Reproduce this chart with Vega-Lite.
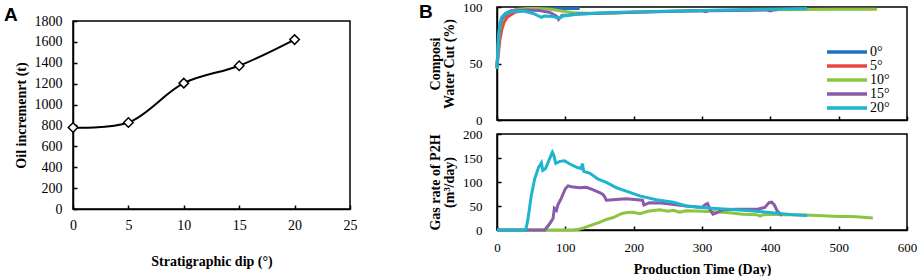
{
  "$schema": "https://vega.github.io/schema/vega-lite/v6.json",
  "background": "white",
  "padding": {"left": 3, "top": 0, "right": 0, "bottom": 0},
  "config": {
    "view": {"stroke": "black", "strokeWidth": 1.5},
    "font": "Liberation Serif, Times New Roman, serif",
    "axis": {
      "domainColor": "black", "domainWidth": 1.5,
      "tickColor": "black", "tickWidth": 1.5, "tickSize": -4,
      "labelColor": "black", "labelFont": "Liberation Serif, Times New Roman, serif", "labelFontSize": 14, "labelFlush": false,
      "titleFont": "Liberation Serif, Times New Roman, serif", "titleFontWeight": "bold", "titleFontSize": 14, "titleColor": "black",
      "grid": false
    },
    "legend": {"labelFont": "Liberation Serif, Times New Roman, serif"}
  },
  "datasets": {
    "oil": [
      {"dip": 0, "oil": 780}, {"dip": 5, "oil": 828}, {"dip": 10, "oil": 1205}, {"dip": 15, "oil": 1372}, {"dip": 20, "oil": 1622}
    ],
    "wc": [
      {"s": "0°", "day": 0, "v": 48}, {"s": "0°", "day": 2, "v": 70}, {"s": "0°", "day": 4, "v": 83}, {"s": "0°", "day": 7, "v": 90}, {"s": "0°", "day": 12, "v": 94}, {"s": "0°", "day": 20, "v": 96.5}, {"s": "0°", "day": 30, "v": 97.8}, {"s": "0°", "day": 45, "v": 98.3}, {"s": "0°", "day": 60, "v": 98.5}, {"s": "0°", "day": 80, "v": 98.5}, {"s": "0°", "day": 100, "v": 98.6}, {"s": "0°", "day": 121, "v": 98.6},
      {"s": "5°", "day": 0, "v": 47}, {"s": "5°", "day": 2, "v": 58}, {"s": "5°", "day": 4, "v": 70}, {"s": "5°", "day": 7, "v": 80}, {"s": "5°", "day": 10, "v": 86}, {"s": "5°", "day": 15, "v": 91}, {"s": "5°", "day": 25, "v": 95}, {"s": "5°", "day": 35, "v": 96.5}, {"s": "5°", "day": 50, "v": 97.5}, {"s": "5°", "day": 60, "v": 97.8},
      {"s": "10°", "day": 0, "v": 46}, {"s": "10°", "day": 2, "v": 66}, {"s": "10°", "day": 4, "v": 80}, {"s": "10°", "day": 7, "v": 88}, {"s": "10°", "day": 12, "v": 93}, {"s": "10°", "day": 20, "v": 96}, {"s": "10°", "day": 30, "v": 97.8}, {"s": "10°", "day": 45, "v": 98.6}, {"s": "10°", "day": 60, "v": 98.6}, {"s": "10°", "day": 78, "v": 98}, {"s": "10°", "day": 97, "v": 96.2}, {"s": "10°", "day": 112, "v": 95}, {"s": "10°", "day": 131, "v": 94.4}, {"s": "10°", "day": 161, "v": 94.5}, {"s": "10°", "day": 175, "v": 94.8}, {"s": "10°", "day": 200, "v": 95.4}, {"s": "10°", "day": 250, "v": 96.2}, {"s": "10°", "day": 300, "v": 96.8}, {"s": "10°", "day": 350, "v": 97.2}, {"s": "10°", "day": 400, "v": 97.6}, {"s": "10°", "day": 450, "v": 97.8}, {"s": "10°", "day": 500, "v": 98}, {"s": "10°", "day": 556, "v": 98},
      {"s": "15°", "day": 0, "v": 46}, {"s": "15°", "day": 2, "v": 68}, {"s": "15°", "day": 4, "v": 82}, {"s": "15°", "day": 7, "v": 89}, {"s": "15°", "day": 12, "v": 93}, {"s": "15°", "day": 20, "v": 95.8}, {"s": "15°", "day": 30, "v": 97}, {"s": "15°", "day": 45, "v": 97.3}, {"s": "15°", "day": 62, "v": 96.8}, {"s": "15°", "day": 78, "v": 95}, {"s": "15°", "day": 87, "v": 92}, {"s": "15°", "day": 90, "v": 89}, {"s": "15°", "day": 95, "v": 92.5}, {"s": "15°", "day": 105, "v": 93}, {"s": "15°", "day": 117, "v": 93.8}, {"s": "15°", "day": 150, "v": 94.5}, {"s": "15°", "day": 200, "v": 95.4}, {"s": "15°", "day": 250, "v": 96}, {"s": "15°", "day": 300, "v": 96.6}, {"s": "15°", "day": 305, "v": 95.8}, {"s": "15°", "day": 310, "v": 96.6}, {"s": "15°", "day": 350, "v": 97}, {"s": "15°", "day": 395, "v": 97.4}, {"s": "15°", "day": 400, "v": 96.5}, {"s": "15°", "day": 405, "v": 97.5}, {"s": "15°", "day": 410, "v": 97.6},
      {"s": "20°", "day": 0, "v": 45}, {"s": "20°", "day": 2, "v": 72}, {"s": "20°", "day": 4, "v": 85}, {"s": "20°", "day": 7, "v": 91}, {"s": "20°", "day": 12, "v": 94}, {"s": "20°", "day": 20, "v": 95.8}, {"s": "20°", "day": 30, "v": 96.5}, {"s": "20°", "day": 40, "v": 96.3}, {"s": "20°", "day": 53, "v": 94.3}, {"s": "20°", "day": 65, "v": 90.8}, {"s": "20°", "day": 69, "v": 92}, {"s": "20°", "day": 82, "v": 91.7}, {"s": "20°", "day": 90, "v": 90}, {"s": "20°", "day": 97, "v": 92}, {"s": "20°", "day": 117, "v": 93.5}, {"s": "20°", "day": 150, "v": 94.6}, {"s": "20°", "day": 180, "v": 95.4}, {"s": "20°", "day": 250, "v": 96.3}, {"s": "20°", "day": 300, "v": 97}, {"s": "20°", "day": 350, "v": 97.6}, {"s": "20°", "day": 400, "v": 98.1}, {"s": "20°", "day": 454, "v": 98.7}
    ],
    "gas": [
      {"s": "10°", "day": 0, "v": 0}, {"s": "10°", "day": 111, "v": 0}, {"s": "10°", "day": 120, "v": 1.5}, {"s": "10°", "day": 126, "v": 4}, {"s": "10°", "day": 136, "v": 9}, {"s": "10°", "day": 150, "v": 16}, {"s": "10°", "day": 160, "v": 22}, {"s": "10°", "day": 170, "v": 26}, {"s": "10°", "day": 182, "v": 34}, {"s": "10°", "day": 190, "v": 36.5}, {"s": "10°", "day": 199, "v": 37}, {"s": "10°", "day": 209, "v": 34}, {"s": "10°", "day": 221, "v": 39}, {"s": "10°", "day": 238, "v": 42}, {"s": "10°", "day": 250, "v": 39}, {"s": "10°", "day": 258, "v": 41}, {"s": "10°", "day": 267, "v": 37}, {"s": "10°", "day": 277, "v": 40}, {"s": "10°", "day": 300, "v": 39}, {"s": "10°", "day": 320, "v": 38}, {"s": "10°", "day": 340, "v": 36}, {"s": "10°", "day": 360, "v": 33}, {"s": "10°", "day": 380, "v": 32}, {"s": "10°", "day": 385, "v": 29}, {"s": "10°", "day": 390, "v": 32}, {"s": "10°", "day": 400, "v": 33}, {"s": "10°", "day": 420, "v": 32}, {"s": "10°", "day": 450, "v": 31}, {"s": "10°", "day": 470, "v": 30}, {"s": "10°", "day": 500, "v": 28}, {"s": "10°", "day": 520, "v": 28}, {"s": "10°", "day": 550, "v": 25},
      {"s": "15°", "day": 0, "v": 0}, {"s": "15°", "day": 70, "v": 0}, {"s": "15°", "day": 77, "v": 13}, {"s": "15°", "day": 82, "v": 24}, {"s": "15°", "day": 84, "v": 45}, {"s": "15°", "day": 87, "v": 41}, {"s": "15°", "day": 89, "v": 52}, {"s": "15°", "day": 94, "v": 66}, {"s": "15°", "day": 100, "v": 86}, {"s": "15°", "day": 104, "v": 92}, {"s": "15°", "day": 109, "v": 90}, {"s": "15°", "day": 121, "v": 88}, {"s": "15°", "day": 131, "v": 89}, {"s": "15°", "day": 140, "v": 84}, {"s": "15°", "day": 150, "v": 78}, {"s": "15°", "day": 155, "v": 74}, {"s": "15°", "day": 158, "v": 68}, {"s": "15°", "day": 160, "v": 62}, {"s": "15°", "day": 170, "v": 63}, {"s": "15°", "day": 189, "v": 65}, {"s": "15°", "day": 205, "v": 63}, {"s": "15°", "day": 213, "v": 62}, {"s": "15°", "day": 215, "v": 52}, {"s": "15°", "day": 223, "v": 57}, {"s": "15°", "day": 240, "v": 56}, {"s": "15°", "day": 253, "v": 54}, {"s": "15°", "day": 277, "v": 50}, {"s": "15°", "day": 300, "v": 47}, {"s": "15°", "day": 305, "v": 53}, {"s": "15°", "day": 308, "v": 55}, {"s": "15°", "day": 312, "v": 42}, {"s": "15°", "day": 316, "v": 33}, {"s": "15°", "day": 322, "v": 36}, {"s": "15°", "day": 330, "v": 42}, {"s": "15°", "day": 350, "v": 43}, {"s": "15°", "day": 380, "v": 43}, {"s": "15°", "day": 392, "v": 47}, {"s": "15°", "day": 398, "v": 57}, {"s": "15°", "day": 402, "v": 58}, {"s": "15°", "day": 406, "v": 52}, {"s": "15°", "day": 410, "v": 40}, {"s": "15°", "day": 417, "v": 30},
      {"s": "20°", "day": 0, "v": 0}, {"s": "20°", "day": 42, "v": 0}, {"s": "20°", "day": 45, "v": 20}, {"s": "20°", "day": 50, "v": 70}, {"s": "20°", "day": 55, "v": 106}, {"s": "20°", "day": 61, "v": 131}, {"s": "20°", "day": 65, "v": 140}, {"s": "20°", "day": 67, "v": 124}, {"s": "20°", "day": 71, "v": 128}, {"s": "20°", "day": 76, "v": 145}, {"s": "20°", "day": 81, "v": 162}, {"s": "20°", "day": 83, "v": 156}, {"s": "20°", "day": 86, "v": 139}, {"s": "20°", "day": 92, "v": 143}, {"s": "20°", "day": 99, "v": 144}, {"s": "20°", "day": 106, "v": 138}, {"s": "20°", "day": 116, "v": 131}, {"s": "20°", "day": 123, "v": 128}, {"s": "20°", "day": 125, "v": 138}, {"s": "20°", "day": 127, "v": 122}, {"s": "20°", "day": 136, "v": 118}, {"s": "20°", "day": 148, "v": 106}, {"s": "20°", "day": 160, "v": 99}, {"s": "20°", "day": 175, "v": 88}, {"s": "20°", "day": 189, "v": 81}, {"s": "20°", "day": 209, "v": 71}, {"s": "20°", "day": 233, "v": 63}, {"s": "20°", "day": 258, "v": 58}, {"s": "20°", "day": 277, "v": 50}, {"s": "20°", "day": 300, "v": 47}, {"s": "20°", "day": 320, "v": 45}, {"s": "20°", "day": 350, "v": 42}, {"s": "20°", "day": 380, "v": 39}, {"s": "20°", "day": 410, "v": 35}, {"s": "20°", "day": 440, "v": 31}, {"s": "20°", "day": 454, "v": 30}
    ]
  },
  "spacing": 60,
  "hconcat": [
    {
      "bounds": "flush",
      "spacing": 13,
      "vconcat": [
        {"width": 277, "height": 1, "view": {"stroke": null}, "data": {"values": []}, "mark": "point"},
        {
          "width": 277,
          "height": 188,
          "title": {"text": "A", "anchor": "start", "frame": "group", "dx": -69, "dy": 27, "offset": 1, "baseline": "alphabetic", "font": "Liberation Sans", "fontSize": 19, "fontWeight": "bold", "color": "black"},
          "data": {"name": "oil"},
          "encoding": {
            "x": {"field": "dip", "type": "quantitative", "scale": {"domain": [0, 25]}, "axis": {"values": [0, 5, 10, 15, 20, 25], "title": "Stratigraphic dip (°)", "labelPadding": 13, "titlePadding": 22}},
            "y": {"field": "oil", "type": "quantitative", "scale": {"domain": [0, 1800]}, "axis": {"values": [0, 200, 400, 600, 800, 1000, 1200, 1400, 1600, 1800], "format": "d", "title": "Oil incremenrt (t)", "labelPadding": 15, "titlePadding": 6}}
          },
          "layer": [
            {"mark": {"type": "line", "interpolate": "catmull-rom", "color": "black", "strokeWidth": 2}},
            {"mark": {"type": "point", "shape": "diamond", "filled": true, "fill": "white", "stroke": "black", "strokeWidth": 1.5, "size": 90, "opacity": 1}}
          ]
        }
      ]
    },
    {
      "bounds": "flush",
      "spacing": 14,
      "resolve": {"scale": {"color": "independent"}, "legend": {"color": "independent"}},
      "vconcat": [
        {
          "width": 410,
          "height": 113,
          "title": {"text": "B", "anchor": "start", "frame": "group", "dx": -78, "dy": 36, "offset": 0, "baseline": "alphabetic", "font": "Liberation Sans", "fontSize": 19, "fontWeight": "bold", "color": "black"},
          "data": {"name": "wc"},
          "mark": {"type": "line", "strokeWidth": 3},
          "encoding": {
            "x": {"field": "day", "type": "quantitative", "scale": {"domain": [0, 600]}, "axis": {"values": [0, 100, 200, 300, 400, 500, 600], "labels": false, "title": null}},
            "y": {"field": "v", "type": "quantitative", "scale": {"domain": [0, 100]}, "axis": {"values": [0, 50, 100], "labelFontSize": 13, "labelPadding": 19, "title": ["Composi", "Water Cut (%)"], "titleLineHeight": 14, "titlePadding": 6}},
            "color": {
              "field": "s", "type": "nominal",
              "scale": {"domain": ["0°", "5°", "10°", "15°", "20°"], "range": ["#1F6FC2", "#E8483F", "#8DC440", "#8A5BAA", "#1CB4CF"]},
              "legend": {"orient": "none", "legendX": 343, "legendY": 38, "title": null, "symbolType": "M-5,0H5", "symbolSize": 64, "symbolStrokeWidth": 3.5, "labelFontSize": 14, "labelColor": "black", "labelOffset": 16, "rowPadding": -0.5}
            }
          }
        },
        {
          "width": 410,
          "height": 96,
          "data": {"name": "gas"},
          "mark": {"type": "line", "strokeWidth": 3},
          "encoding": {
            "x": {"field": "day", "type": "quantitative", "scale": {"domain": [0, 600]}, "axis": {"values": [0, 100, 200, 300, 400, 500, 600], "labelFontSize": 13, "labelPadding": 15, "title": "Production Time (Day)", "titlePadding": 8}},
            "y": {"field": "v", "type": "quantitative", "scale": {"domain": [0, 200]}, "axis": {"values": [0, 50, 100, 150, 200], "labelFontSize": 13, "labelPadding": 19, "title": ["Gas rate of P2H", "(m³/day)"], "titleLineHeight": 14, "titlePadding": 6}},
            "color": {
              "field": "s", "type": "nominal",
              "scale": {"domain": ["0°", "5°", "10°", "15°", "20°"], "range": ["#1F6FC2", "#E8483F", "#8DC440", "#8A5BAA", "#1CB4CF"]},
              "legend": null
            }
          }
        }
      ]
    }
  ]
}
